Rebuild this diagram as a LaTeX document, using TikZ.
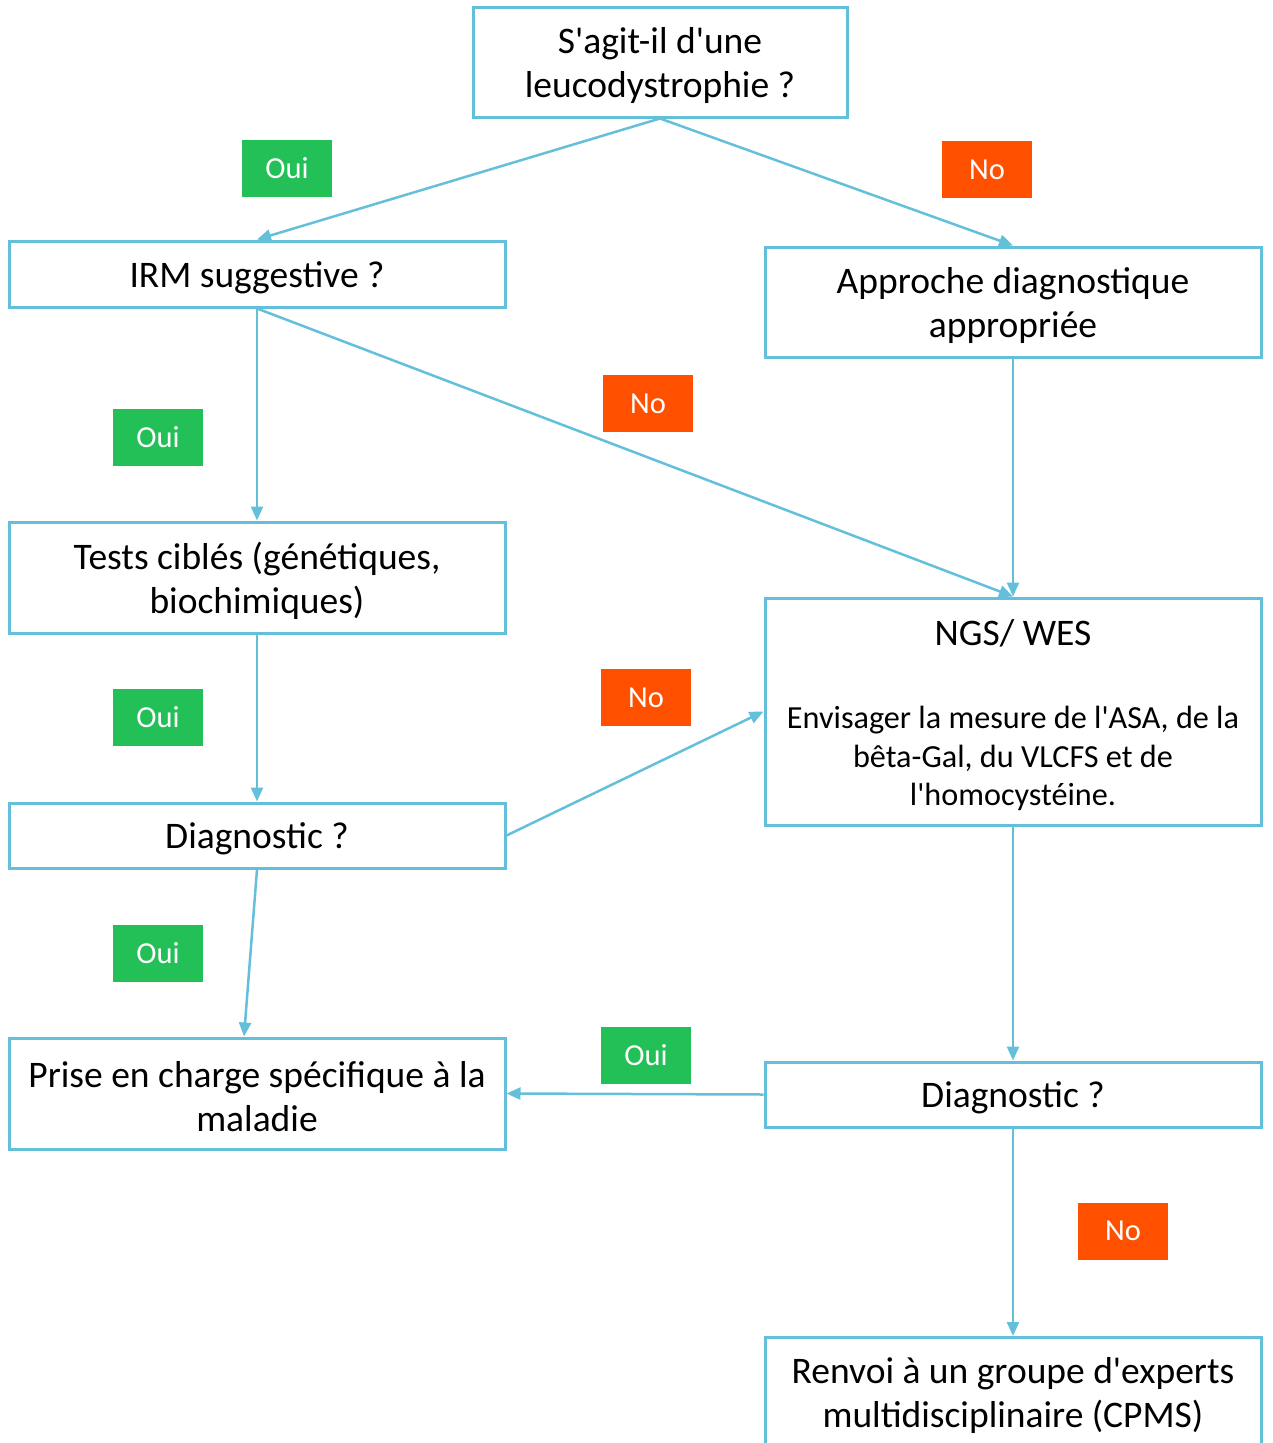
\documentclass[tikz,border=0pt]{standalone}
\usepackage{fontspec}
\setmainfont{Carlito}
\usetikzlibrary{arrows.meta}
\definecolor{lineblue}{RGB}{100,192,218}
\definecolor{ouigreen}{RGB}{34,192,86}
\definecolor{noorange}{RGB}{255,80,0}
\newcommand{\q}{\textquotesingle}
\tikzset{
  box/.style={draw=lineblue, line width=3pt, fill=white, inner sep=0pt},
  txt/.style={inner sep=0pt, align=center, font=\fontsize{37.5}{44}\selectfont},
  smalltxt/.style={inner sep=0pt, align=center, font=\fontsize{32.2}{38.5}\selectfont},
  oui/.style={fill=ouigreen, text=white, minimum width=90pt, minimum height=57pt, inner sep=0pt,
    font=\fontsize{30.5}{34}\selectfont},
  no/.style={fill=noorange, text=white, minimum width=90pt, minimum height=57pt, inner sep=0pt,
    font=\fontsize{30.5}{34}\selectfont},
  conn/.style={draw=lineblue, line width=2.5pt, -{Triangle[length=14pt,width=12pt]}}
}
\begin{document}
\begin{tikzpicture}[x=1pt,y=-1pt]
\useasboundingbox (0,0) rectangle (1272,1443);
% boxes
\node[box, minimum width=374pt, minimum height=110pt] (top) at (660,62) {};
\node[box, minimum width=496pt, minimum height=66pt] (irm) at (257,274) {};
\node[box, minimum width=496pt, minimum height=110pt] (appr) at (1013,302) {};
\node[box, minimum width=496pt, minimum height=111pt] (tests) at (257,577.5) {};
\node[box, minimum width=496pt, minimum height=227pt] (ngs) at (1013,711.5) {};
\node[box, minimum width=496pt, minimum height=65pt] (dl) at (257,835.5) {};
\node[box, minimum width=496pt, minimum height=111pt] (prise) at (257,1093.5) {};
\node[box, minimum width=496pt, minimum height=65pt] (dr) at (1013,1094.5) {};
\node[box, minimum width=496pt, minimum height=122pt, anchor=north] (renvoi) at (1013,1336) {};
% texts
\node[txt] (topt) at ([yshift=-3.5pt]top.center) {S\q agit-il d\q une\\leucodystrophie ?};
\node[txt] (irmt) at ([yshift=-3.5pt]irm.center) {IRM suggestive ?};
\node[txt] (apprt) at ([yshift=-3.5pt]appr.center) {Approche diagnostique\\appropriée};
\node[txt] (testst) at ([yshift=-3.5pt]tests.center) {Tests ciblés (génétiques,\\biochimiques)};
\node[txt] (ngstitle) at (1013,633) {NGS/ WES};
\node[smalltxt] (ngsbody) at (1013,758.5) {Envisager la mesure de l\q ASA, de la\\bêta-Gal, du VLCFS et de\\l\q homocystéine.};
\node[txt] (dlt) at ([yshift=-3.5pt]dl.center) {Diagnostic ?};
\node[txt] (priset) at ([yshift=-3.5pt]prise.center) {Prise en charge spécifique à la\\maladie};
\node[txt] (drt) at ([yshift=-3.5pt]dr.center) {Diagnostic ?};
\node[txt] (renvoit) at (1013,1395.5) {Renvoi à un groupe d\q experts\\multidisciplinaire (CPMS)};
% labels
\node[oui] (l1) at (287,168.5) {Oui};
\node[no] (l2) at (987,169.5) {No};
\node[oui] (l3) at (158,437.5) {Oui};
\node[no] (l4) at (648,403.5) {No};
\node[oui] (l5) at (158,717.5) {Oui};
\node[no] (l6) at (646,697.5) {No};
\node[oui] (l7) at (158,953.5) {Oui};
\node[oui] (l8) at (646,1055.5) {Oui};
\node[no] (l9) at (1123,1231) {No};
% connectors
\draw[conn] (top.south) -- (irm.north);
\draw[conn] (top.south) -- (appr.north);
\draw[conn] (irm.south) -- (tests.north);
\draw[conn] (irm.south) -- (ngs.north);
\draw[conn] (appr.south) -- (ngs.north);
\draw[conn] (tests.south) -- (dl.north);
\draw[conn] (dl.east) -- (ngs.west);
\draw[conn] (dl.south) -- ([xshift=-13pt]prise.north);
\draw[conn] (dr.west) -- (prise.east);
\draw[conn] (ngs.south) -- (dr.north);
\draw[conn] (dr.south) -- (renvoi.north);
\end{tikzpicture}
\end{document}
